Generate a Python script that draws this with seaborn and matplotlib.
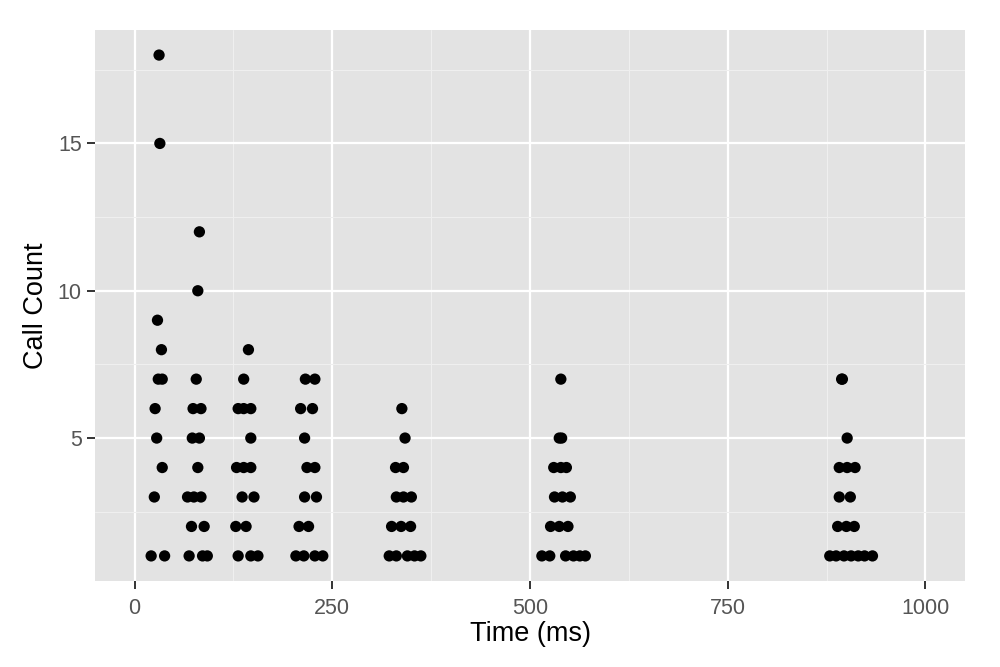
import numpy as np
import pandas as pd
import seaborn as sns
from matplotlib import pyplot as plt
from matplotlib.ticker import MultipleLocator

# Call count vs time (grouped by burst)
time_ms = [
    # ~30 ms
    31, 32, 29, 34, 30, 35, 26, 28, 35, 25, 21, 38,
    # ~80 ms
    82, 80, 78, 74, 84, 73, 82, 80, 67, 75, 84, 72, 88, 69, 86, 92,
    # ~140 ms
    144, 138, 131, 138, 147, 147, 129, 138, 147, 136, 151, 128, 141, 131, 147, 156,
    # ~220 ms
    216, 228, 210, 225, 215, 218, 228, 215, 230, 208, 220, 204, 214, 228, 238,
    # ~340 ms
    338, 342, 330, 340, 331, 340, 350, 325, 337, 349, 322, 331, 345, 354, 362,
    # ~540 ms
    539, 537, 540, 530, 539, 546, 531, 541, 551, 526, 537, 548, 515, 525, 545, 555, 563, 570,
    # ~900 ms
    894, 895, 901, 891, 901, 911, 891, 905, 889, 900, 910, 879, 887, 897, 906, 915, 923, 933,
]
call_count = [
    18, 15, 9, 8, 7, 7, 6, 5, 4, 3, 1, 1,
    12, 10, 7, 6, 6, 5, 5, 4, 3, 3, 3, 2, 2, 1, 1, 1,
    8, 7, 6, 6, 6, 5, 4, 4, 4, 3, 3, 2, 2, 1, 1, 1,
    7, 7, 6, 6, 5, 4, 4, 3, 3, 2, 2, 1, 1, 1, 1,
    6, 5, 4, 4, 3, 3, 3, 2, 2, 2, 1, 1, 1, 1, 1,
    7, 5, 5, 4, 4, 4, 3, 3, 3, 2, 2, 2, 1, 1, 1, 1, 1, 1,
    7, 7, 5, 4, 4, 4, 3, 3, 2, 2, 2, 1, 1, 1, 1, 1, 1, 1,
]

df = pd.DataFrame({"Time (ms)": time_ms, "Call Count": call_count})

sns.set_theme(style="darkgrid", rc={
    "axes.facecolor": "#E3E3E3",
    "grid.color": "white",
    "axes.edgecolor": "#E3E3E3",
})
plt.rcParams['font.family'] = ['Liberation Sans', 'DejaVu Sans']

fig, ax = plt.subplots(figsize=(10, 6.67), dpi=100)
fig.subplots_adjust(left=0.095, right=0.965, top=0.955, bottom=0.129)

sns.scatterplot(data=df, x="Time (ms)", y="Call Count", ax=ax,
                color="black", s=66, edgecolor="none", zorder=3)

ax.set_xlim(-50, 1050)
ax.set_ylim(0.15, 18.85)
ax.set_xticks([0, 250, 500, 750, 1000])
ax.set_yticks([5, 10, 15])
ax.xaxis.set_minor_locator(MultipleLocator(125))
ax.yaxis.set_minor_locator(MultipleLocator(2.5))
ax.grid(which="major", color="white", linewidth=1.6)
ax.grid(which="minor", color="#EFEFEF", linewidth=0.8)
for s in ax.spines.values():
    s.set_visible(False)

ax.tick_params(axis="both", which="major", length=5.5, width=1.4, color="#333333",
               labelsize=15.5, labelcolor="#555555", pad=4, bottom=True, left=True)
ax.tick_params(axis="x", which="major", pad=7)
ax.tick_params(axis="both", which="minor", length=0)

ax.set_xlabel("Time (ms)", fontsize=19.5, color="black", labelpad=1)
ax.set_ylabel("Call Count", fontsize=19.5, color="black", labelpad=6)

plt.savefig("out.png", dpi=100)
